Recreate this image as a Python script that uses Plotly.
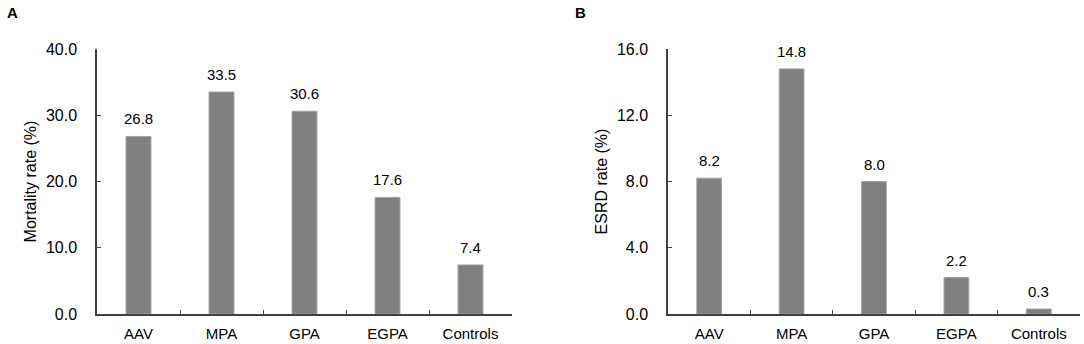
import plotly.graph_objects as go

categories = ["AAV", "MPA", "GPA", "EGPA", "Controls"]
mortality = [26.8, 33.5, 30.6, 17.6, 7.4]
esrd = [8.2, 14.8, 8.0, 2.2, 0.3]
mortality_labels = ["26.8", "33.5", "30.6", "17.6", "7.4"]
esrd_labels = ["8.2", "14.8", "8.0", "2.2", "0.3"]

W, H = 1084, 344
FONT = "Liberation Sans, Arial, sans-serif"
BAR = "#7f7f7f"
AX = "#404040"

fig = go.Figure()
fig.add_trace(go.Bar(x=categories, y=mortality, cliponaxis=False,
                     marker=dict(color=BAR, line=dict(color="#a0a0a0", width=1)), width=0.3,
                     xaxis="x", yaxis="y", showlegend=False, hoverinfo="x+y"))
fig.add_trace(go.Bar(x=categories, y=esrd, cliponaxis=False,
                     marker=dict(color=BAR, line=dict(color="#a0a0a0", width=1)), width=0.3,
                     xaxis="x2", yaxis="y2", showlegend=False, hoverinfo="x+y"))

annotations = []
for c, v, t in zip(categories, mortality, mortality_labels):
    annotations.append(dict(x=c, y=v, text=t, xref="x", yref="y", showarrow=False,
                            yanchor="bottom", yshift=7,
                            font=dict(size=15, family=FONT, color="black")))
for c, v, t in zip(categories, esrd, esrd_labels):
    annotations.append(dict(x=c, y=v, text=t, xref="x2", yref="y2", showarrow=False,
                            yanchor="bottom", yshift=7,
                            font=dict(size=15, family=FONT, color="black")))
annotations += [
    dict(text="<b>A</b>", x=5 / W, y=1 - 13 / H, xref="paper", yref="paper",
         xanchor="left", yanchor="middle", showarrow=False,
         font=dict(size=15, family=FONT, color="black")),
    dict(text="<b>B</b>", x=573 / W, y=1 - 13 / H, xref="paper", yref="paper",
         xanchor="left", yanchor="middle", showarrow=False,
         font=dict(size=15, family=FONT, color="black")),
]

ybot = 30 / H
ytop = 295 / H

xcommon = dict(type="category", showline=True, linecolor=AX, linewidth=1.5, ticks="inside",
               tickson="boundaries", ticklen=4, tickcolor=AX, tickwidth=1, showgrid=False,
               tickfont=dict(size=15, color="black", family=FONT), automargin=False,
               ticklabelstandoff=5,
               range=[-0.5, 4.5], fixedrange=True)
ycommon = dict(showline=True, linecolor=AX, linewidth=1.5, ticks="inside", ticklen=4,
               tickcolor=AX, tickwidth=1, showgrid=False, zeroline=False, tickformat=".1f",
               tickfont=dict(size=16, color="black", family=FONT), automargin=False,
               ticklabelstandoff=15, fixedrange=True,
               title_font=dict(size=16, color="black", family=FONT))

fig.update_layout(
    width=W, height=H, margin=dict(l=0, r=0, t=0, b=0),
    plot_bgcolor="white", paper_bgcolor="white",
    font=dict(family=FONT, size=15, color="black"),
    xaxis=dict(domain=[97 / W, 512 / W], anchor="y", **xcommon),
    yaxis=dict(domain=[ybot, ytop], anchor="x", range=[0, 40], dtick=10,
               title=dict(text="Mortality rate (%)", standoff=5), **ycommon),
    xaxis2=dict(domain=[668 / W, 1080 / W], anchor="y2", **xcommon),
    yaxis2=dict(domain=[ybot, ytop], anchor="x2", range=[0, 16], dtick=4,
                title=dict(text="ESRD rate (%)", standoff=5), **ycommon),
    annotations=annotations,
)

fig.write_html("out.html", config={"displayModeBar": False},
               post_script="document.body.style.margin='0';document.body.style.padding='0';")
